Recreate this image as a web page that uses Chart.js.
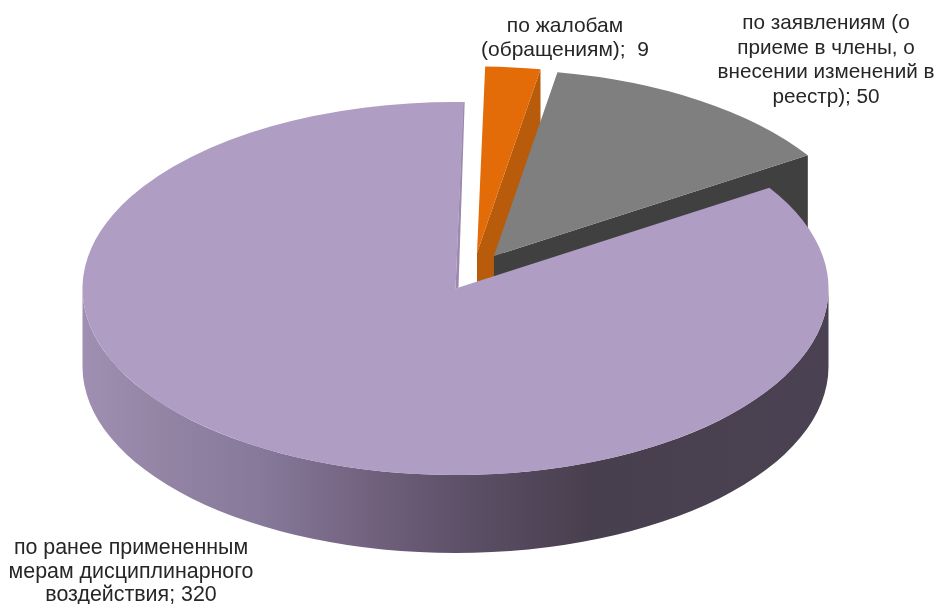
<!DOCTYPE html>
<html><head><meta charset="utf-8">
<style>html,body{margin:0;padding:0;background:#fff}canvas{display:block}</style>
<script src="https://cdn.jsdelivr.net/npm/chart.js@4"></script></head>
<body><canvas id="c" width="945" height="604"></canvas>
<script>
const categories = ["по ранее примененным мерам дисциплинарного воздействия","по жалобам (обращениям)","по заявлениям (о приеме в члены, о внесении изменений в реестр)"];
const values = [320, 9, 50];
const colors = ["#AF9DC4", "#E36C09", "#7F7F7F"];
const labelLines = [
  ["по ранее примененным","мерам дисциплинарного","воздействия; 320"],
  ["по жалобам","(обращениям);  9"],
  ["по заявлениям (о","приеме в члены, о","внесении изменений в","реестр); 50"]
];
const labelCenterX = [131, 565, 826];
const labelTopY = [548.5, 26.5, 23.5];
const labelStep = [23.5, 24, 24.5];
const labelFontPx = [21.4, 21, 20.7];
const explodeX = [0, 0.0576, 0.103];
const explodeY = [0, -0.19, -0.174];
const wallColors = [null, "#B85B0B", "#404040"];
const rotation = 57.3;
const PIE = {x:455.5, y:288.5, rx:373, ry:186.5, depth:78};

let base = null;
function proj(px, py){
  return [PIE.x + (px-base.x)*PIE.rx/base.r, PIE.y + (py-base.y)*PIE.ry/base.r];
}
const pie3d = {
  id:'pie3d',
  afterDatasetsUpdate(chart){
    const els = chart.getDatasetMeta(0).data;
    base = {x:els[0].x, y:els[0].y, r:els[0].outerRadius};
    els.forEach((el,i)=>{ el.x = base.x + explodeX[i]*base.r; el.y = base.y + explodeY[i]*base.r; });
  },
  beforeDatasetsDraw(chart){
    const ctx = chart.ctx, els = chart.getDatasetMeta(0).data, d = PIE.depth;
    // cut faces of the exploded slices
    [1,2].forEach(i=>{
      const e = els[i];
      const tip = proj(e.x,e.y);
      const rim = proj(e.x+Math.cos(e.endAngle)*base.r, e.y+Math.sin(e.endAngle)*base.r);
      ctx.fillStyle = wallColors[i];
      ctx.beginPath();
      ctx.moveTo(tip[0],tip[1]);
      ctx.lineTo(rim[0],rim[1]);
      ctx.lineTo(rim[0],rim[1]+d);
      ctx.lineTo(tip[0],tip[1]+d);
      ctx.closePath();
      ctx.fill();
    });
    // curved rim of the large slice
    const g = ctx.createLinearGradient(PIE.x-PIE.rx,0,PIE.x+PIE.rx,0);
    g.addColorStop(0,'#9F8FB2');
    g.addColorStop(0.10,'#9485A5');
    g.addColorStop(0.24,'#86799A');
    g.addColorStop(0.36,'#766583');
    g.addColorStop(0.50,'#5E5169');
    g.addColorStop(0.68,'#483F4E');
    g.addColorStop(1,'#4A4252');
    ctx.fillStyle = g;
    ctx.beginPath();
    ctx.ellipse(PIE.x,PIE.y,PIE.rx,PIE.ry,0,0,Math.PI,false);
    ctx.lineTo(PIE.x-PIE.rx,PIE.y+d);
    ctx.ellipse(PIE.x,PIE.y+d,PIE.rx,PIE.ry,0,Math.PI,0,true);
    ctx.closePath();
    ctx.fill();
    // slim visible cut face of the large slice
    const e0 = els[0];
    const a = proj(e0.x+Math.cos(e0.endAngle)*base.r, e0.y+Math.sin(e0.endAngle)*base.r);
    ctx.fillStyle = '#9A8AAE';
    ctx.beginPath();
    ctx.moveTo(a[0]-0.5,a[1]);
    ctx.lineTo(PIE.x,PIE.y);
    ctx.lineTo(PIE.x+3,PIE.y-1);
    ctx.lineTo(a[0]+1,a[1]);
    ctx.closePath();
    ctx.fill();
    ctx.save();
    ctx.translate(PIE.x,PIE.y);
    ctx.scale(PIE.rx/base.r,PIE.ry/base.r);
    ctx.translate(-base.x,-base.y);
  },
  afterDatasetsDraw(chart){
    const ctx = chart.ctx;
    ctx.restore();
    ctx.fillStyle = '#262626';
    ctx.textAlign = 'center';
    ctx.textBaseline = 'middle';
    labelLines.forEach((lines,i)=>{
      ctx.font = labelFontPx[i]+'px "Liberation Sans", Arial, sans-serif';
      lines.forEach((t,j)=>ctx.fillText(t,labelCenterX[i],labelTopY[i]+j*labelStep[i]));
    });
  }
};
new Chart(document.getElementById('c'),{
  type:'pie',
  data:{labels:categories,datasets:[{data:values,backgroundColor:colors,borderWidth:0}]},
  options:{
    responsive:false,animation:false,events:[],rotation:rotation,
    layout:{padding:0},
    plugins:{legend:{display:false},tooltip:{enabled:false},title:{display:false}}
  },
  plugins:[pie3d]
});
</script></body></html>
